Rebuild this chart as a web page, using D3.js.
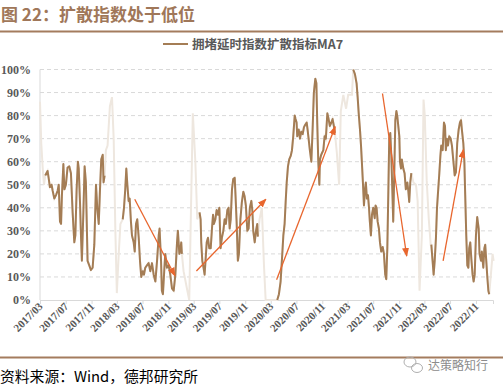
<!DOCTYPE html>
<html>
<head>
<meta charset="utf-8">
<script src="https://cdn.jsdelivr.net/npm/d3@7"></script>
<style>
  body { margin: 0; background: #fff; }
  svg { display: block; }
</style>
</head>
<body>
<svg id="chart" width="503" height="388"></svg>
<script>
// diffusion index MA7
var series = [
  ["2017-03-01",86],["2017-03-07",68],["2017-03-14",57],["2017-03-20",50],
  ["2017-03-26",54],["2017-04-06",56],["2017-04-11",53],["2017-04-17",49],["2017-04-25",50],["2017-04-30",47.5],
  ["2017-05-08",44],["2017-05-16",45.5],["2017-05-24",47.5],["2017-05-29",50],["2017-06-04",34],["2017-06-09",33],
  ["2017-06-13",45],["2017-06-20",59],["2017-06-25",48],["2017-07-02",50],["2017-07-10",57.5],["2017-07-18",58],
  ["2017-07-26",55],["2017-08-03",38],["2017-08-11",25],["2017-08-16",28],["2017-08-22",48],["2017-08-28",60],
  ["2017-09-01",57],["2017-09-07",42.5],["2017-09-12",27],["2017-09-16",17],["2017-09-23",38],["2017-09-29",58],
  ["2017-10-05",51],["2017-10-13",17],["2017-10-21",15],["2017-10-29",13],["2017-11-06",14],["2017-11-14",24],
  ["2017-11-22",50],["2017-11-28",40],["2017-12-05",33],["2017-12-11",48],["2017-12-17",61],["2017-12-24",63],
  ["2017-12-28",51],["2018-01-02",54],
  ["2018-01-08",65],["2018-01-16",67],["2018-01-27",84],["2018-02-06",88],["2018-02-14",70],["2018-02-22",30],
  ["2018-03-01",3],["2018-03-10",20],["2018-03-18",33],
  ["2018-03-29",35],["2018-04-04",40],["2018-04-10",48],["2018-04-15",57],["2018-04-20",50],["2018-04-26",43],
  ["2018-05-01",44],["2018-05-07",34],["2018-05-12",28],["2018-05-20",25],["2018-05-25",21],["2018-05-31",33],
  ["2018-06-06",35],["2018-06-13",27],["2018-06-19",17],["2018-06-25",10],["2018-07-02",12.5],["2018-07-08",11],
  ["2018-07-14",14],["2018-07-22",15],["2018-07-30",16],["2018-08-07",12.5],["2018-08-15",16],["2018-08-23",11],
  ["2018-08-31",8],["2018-09-08",17],["2018-09-16",28],["2018-09-20",31],["2018-09-27",17],["2018-10-01",4],
  ["2018-10-06",2.5],["2018-10-13",14],["2018-10-17",20],["2018-10-25",14],["2018-11-02",15],["2018-11-10",11],
  ["2018-11-18",5],["2018-11-26",4],["2018-12-04",11],["2018-12-12",25],["2018-12-16",30],["2018-12-23",20],
  ["2018-12-28",22],["2019-01-01",25],["2019-01-04",20],
  ["2019-01-12",12.5],["2019-01-28",5],["2019-02-08",0],["2019-02-25",81],["2019-03-09",60],["2019-03-18",35],
  ["2019-03-29",38],["2019-04-03",35],["2019-04-06",25],["2019-04-11",17],["2019-04-17",14],["2019-04-22",11],
  ["2019-04-27",18],["2019-05-02",25],["2019-05-08",27],["2019-05-14",22.5],["2019-05-21",22.5],["2019-05-27",31],
  ["2019-06-01",37],["2019-06-05",33],["2019-06-12",35],["2019-06-18",39],["2019-06-24",37],["2019-07-01",40],
  ["2019-07-07",22.5],["2019-07-13",27],["2019-07-20",30],["2019-07-26",35],["2019-08-01",33],["2019-08-08",39],
  ["2019-08-14",40],["2019-08-19",31],["2019-08-24",35],["2019-08-30",48],["2019-09-05",52.5],["2019-09-12",53],
  ["2019-09-16",45],["2019-09-21",34],["2019-09-27",17],["2019-10-02",20],["2019-10-09",35],["2019-10-16",42.5],
  ["2019-10-23",47],["2019-10-29",45],["2019-11-04",41],["2019-11-11",30],["2019-11-17",31],["2019-11-23",40],
  ["2019-11-30",43],["2019-12-05",38.5],["2019-12-09",30],["2019-12-16",25],["2019-12-22",30],["2019-12-28",33],
  ["2019-12-31",27.5],
  ["2020-01-08",35],["2020-01-19",40],["2020-01-29",15],["2020-02-06",0],["2020-03-24",0],
  ["2020-04-01",0],["2020-04-09",2.5],["2020-04-17",8],["2020-04-25",20],["2020-04-30",28],["2020-05-06",33],
  ["2020-05-11",42.5],["2020-05-16",51],["2020-05-22",58],["2020-05-28",61],["2020-06-04",62.5],["2020-06-10",65],
  ["2020-06-16",71],["2020-06-23",80],["2020-06-27",78.5],["2020-07-02",77],["2020-07-05",71],["2020-07-12",74],
  ["2020-07-18",70],["2020-07-24",73],["2020-07-31",72],["2020-08-06",75],["2020-08-12",76],["2020-08-19",77],
  ["2020-08-23",74],["2020-08-28",70],["2020-09-03",65],["2020-09-10",60],["2020-09-16",74],["2020-09-22",90],
  ["2020-09-29",96],["2020-10-04",94],["2020-10-08",77],["2020-10-13",60],["2020-10-18",50],["2020-10-21",61],
  ["2020-10-27",63],["2020-11-06",65],["2020-11-12",71],["2020-11-18",70],["2020-11-25",81],["2020-12-01",78.5],
  ["2020-12-07",75.5],["2020-12-14",77],["2020-12-20",78.5],["2020-12-26",75.5],["2020-12-31",72.5],
  ["2021-01-09",64],["2021-01-20",50],["2021-01-28",82],["2021-02-09",89],["2021-02-22",83],["2021-03-04",89],
  ["2021-03-22",89],
  ["2021-03-28",100],["2021-04-05",98],["2021-04-13",94],["2021-04-18",88],["2021-04-23",81],["2021-04-29",74],
  ["2021-05-04",67],["2021-05-08",60],["2021-05-13",51],["2021-05-18",41],["2021-05-23",48],["2021-05-27",51],
  ["2021-06-01",44],["2021-06-06",45.5],["2021-06-11",40],["2021-06-15",34],["2021-06-20",28],["2021-06-25",37],
  ["2021-07-01",40],["2021-07-08",35.5],["2021-07-12",41],["2021-07-17",40],["2021-07-22",34],["2021-07-28",31],
  ["2021-08-02",25],["2021-08-08",21],["2021-08-15",23],["2021-08-21",20],["2021-08-27",11],["2021-09-01",9],
  ["2021-09-06",22.5],["2021-09-11",48],["2021-09-15",70],["2021-09-20",72.5],["2021-09-25",62.5],["2021-09-30",47],
  ["2021-10-04",34],["2021-10-09",55],["2021-10-14",78],["2021-10-19",82],["2021-10-23",80],["2021-10-28",75.5],
  ["2021-11-02",71],["2021-11-05",60],["2021-11-10",57],["2021-11-14",61],["2021-11-21",57],["2021-11-27",55],
  ["2021-12-03",48],["2021-12-10",51],["2021-12-15",47],["2021-12-19",42.5],["2021-12-24",51],["2021-12-29",55],
  ["2022-01-08",51],["2022-01-20",50],["2022-01-28",43],["2022-02-06",4],["2022-02-17",28],["2022-02-25",87],
  ["2022-03-03",80],["2022-03-12",52],["2022-03-22",35],["2022-03-31",24],
  ["2022-04-03",24],["2022-04-09",17],["2022-04-14",11],["2022-04-19",17],["2022-04-25",27],["2022-04-30",40],
  ["2022-05-04",45.5],["2022-05-11",55],["2022-05-16",62.5],["2022-05-20",67],["2022-05-27",65],["2022-06-02",77],
  ["2022-06-07",75.5],["2022-06-11",65],["2022-06-16",70],["2022-06-21",67],["2022-06-27",71],["2022-07-04",70],
  ["2022-07-10",67],["2022-07-16",61],["2022-07-23",54],["2022-07-29",55.5],["2022-08-04",68],["2022-08-11",74],
  ["2022-08-17",77],["2022-08-22",78],["2022-08-26",74],["2022-09-02",68],["2022-09-07",60],["2022-09-11",45.5],
  ["2022-09-16",28],["2022-09-21",15],["2022-09-26",14],["2022-09-30",22.5],["2022-10-05",25],["2022-10-10",18],
  ["2022-10-16",11],["2022-10-21",8],["2022-10-26",11],["2022-11-01",28],["2022-11-07",36],["2022-11-14",31],
  ["2022-11-18",20],["2022-11-25",17],["2022-11-29",21],["2022-12-06",14],["2022-12-11",22.5],["2022-12-15",24],
  ["2022-12-20",17],["2022-12-25",10],["2022-12-30",4],["2023-01-03",2.5],
  ["2023-01-11",11],["2023-01-19",20],["2023-01-24",17]
];

// holiday windows: only the pale line is shown there
var paleSpans = [
  ["2017-03-01","2017-03-26"],
  ["2018-01-02","2018-03-29"],
  ["2019-01-04","2019-03-29"],
  ["2019-12-31","2020-04-01"],
  ["2020-12-31","2021-03-28"],
  ["2021-12-29","2022-04-03"],
  ["2023-01-03","2023-01-24"]
];

// trend arrows [from date, from %, to date, to %]
var arrows = [
  ["2018-05-25",43.7,"2018-12-02",10.5],
  ["2019-03-14",12.6,"2020-02-07",43.7],
  ["2020-03-29",8.8,"2021-01-01",75.2],
  ["2021-08-14",89.6,"2021-12-07",19.1],
  ["2022-05-29",17,"2022-09-02",65.2]
];

var tickLabels = ["2017/03","2017/07","2017/11","2018/03","2018/07","2018/11","2019/03","2019/07","2019/11",
  "2020/03","2020/07","2020/11","2021/03","2021/07","2021/11","2022/03","2022/07","2022/11"];
var yTicks = [0,10,20,30,40,50,60,70,80,90,100];

var parseDay = d3.timeParse("%Y-%m-%d");
var parseMonth = d3.timeParse("%Y/%m");

var data = series.map(function (d) { return {date: parseDay(d[0]), value: d[1]}; });
var spans = paleSpans.map(function (s) { return [parseDay(s[0]), parseDay(s[1])]; });

var svg = d3.select("#chart");

var plotL = 40, plotR = 493, plotT = 69.5, plotB = 300;

var x = d3.scaleTime()
    .domain([parseDay("2017-03-01"), parseDay("2023-01-21")])
    .range([plotL, plotR]);
var y = d3.scaleLinear().domain([0, 100]).range([plotB, plotT]);

// title + rules
svg.append("text")
    .attr("x", 1).attr("y", 21)
    .attr("font-family", "Noto Sans CJK SC")
    .attr("font-weight", "bold")
    .attr("font-size", 17)
    .attr("fill", "#A07759")
    .text("图 22：扩散指数处于低位");
svg.append("rect").attr("x", 0).attr("y", 30.5).attr("width", 503).attr("height", 2).attr("fill", "#A47C5E");
svg.append("rect").attr("x", 0).attr("y", 356.5).attr("width", 503).attr("height", 2).attr("fill", "#A47C5E");

// legend
svg.append("line")
    .attr("x1", 163).attr("x2", 188).attr("y1", 44).attr("y2", 44)
    .attr("stroke", "#A47D55").attr("stroke-width", 2);
svg.append("text")
    .attr("x", 192).attr("y", 48.5)
    .attr("font-family", "Noto Sans CJK SC")
    .attr("font-weight", "bold")
    .attr("font-size", 12.5)
    .attr("fill", "#595959")
    .text("拥堵延时指数扩散指标MA7");

// grid
svg.append("g").selectAll("line")
    .data(yTicks.filter(function (t) { return t > 0; }))
    .enter().append("line")
    .attr("x1", plotL).attr("x2", plotR)
    .attr("y1", function (d) { return y(d); })
    .attr("y2", function (d) { return y(d); })
    .attr("stroke", "#D9D9D9")
    .attr("stroke-dasharray", "4,3");

svg.append("g").selectAll("text")
    .data(yTicks)
    .enter().append("text")
    .attr("x", 31).attr("y", function (d) { return y(d) + 4; })
    .attr("text-anchor", "end")
    .attr("font-family", "Liberation Serif")
    .attr("font-weight", "bold")
    .attr("font-size", 12)
    .attr("fill", "#595959")
    .text(function (d) { return d + "%"; });

svg.append("line")
    .attr("x1", plotL).attr("x2", plotL).attr("y1", plotT).attr("y2", plotB)
    .attr("stroke", "#D9D9D9");

// x axis
var xAxis = d3.axisBottom(x)
    .tickValues(tickLabels.map(function (t) { return parseMonth(t); }))
    .tickSize(4)
    .tickFormat(d3.timeFormat("%Y/%m"));

var gx = svg.append("g")
    .attr("transform", "translate(0," + plotB + ")")
    .call(xAxis);
gx.select(".domain").attr("stroke", "#D9D9D9");
gx.selectAll(".tick line").attr("stroke", "#D9D9D9");
gx.selectAll(".tick text")
    .attr("font-family", "Liberation Serif")
    .attr("font-weight", "bold")
    .attr("font-size", 11)
    .attr("fill", "#595959")
    .attr("text-anchor", "end")
    .attr("y", 0)
    .attr("dy", 0)
    .attr("transform", "translate(3,7) rotate(-45)");

// lines
function pale(d) {
    return spans.some(function (s) { return d.date > s[0] && d.date < s[1]; });
}

var line = d3.line()
    .x(function (d) { return x(d.date); })
    .y(function (d) { return y(d.value); });

svg.append("path")
    .datum(data)
    .attr("fill", "none")
    .attr("stroke", "#EEE7DF")
    .attr("stroke-width", 2)
    .attr("d", line);

svg.append("path")
    .datum(data)
    .attr("fill", "none")
    .attr("stroke", "#A47D55")
    .attr("stroke-width", 2)
    .attr("stroke-linejoin", "round")
    .attr("d", line.defined(function (d) { return !pale(d); }));

// arrows
svg.append("defs").append("marker")
    .attr("id", "head")
    .attr("markerUnits", "userSpaceOnUse")
    .attr("markerWidth", 9).attr("markerHeight", 7)
    .attr("refX", 8).attr("refY", 3.5)
    .attr("orient", "auto")
    .append("path")
    .attr("d", "M0,0L9,3.5L0,7Z")
    .attr("fill", "#E8662E");

svg.append("g").selectAll("line")
    .data(arrows)
    .enter().append("line")
    .attr("x1", function (d) { return x(parseDay(d[0])); })
    .attr("y1", function (d) { return y(d[1]); })
    .attr("x2", function (d) { return x(parseDay(d[2])); })
    .attr("y2", function (d) { return y(d[3]); })
    .attr("stroke", "#E8662E")
    .attr("stroke-width", 1.3)
    .attr("marker-end", "url(#head)");

// source note
svg.append("text")
    .attr("x", 0).attr("y", 382)
    .attr("font-family", "Noto Sans CJK SC")
    .attr("font-size", 14.8)
    .attr("fill", "#000")
    .text("资料来源：Wind，德邦研究所");

// watermark
var wm = svg.append("g").attr("fill", "none").attr("stroke", "#B0B0B0").attr("stroke-width", 1);
wm.append("ellipse").attr("cx", 410).attr("cy", 362).attr("rx", 6).attr("ry", 5);
wm.append("ellipse").attr("cx", 417).attr("cy", 368).attr("rx", 5.5).attr("ry", 4.5);
svg.append("text")
    .attr("x", 428).attr("y", 370)
    .attr("font-family", "Noto Sans CJK SC")
    .attr("font-size", 12)
    .attr("fill", "#8C8C8C")
    .text("达策略知行");
</script>
</body>
</html>
